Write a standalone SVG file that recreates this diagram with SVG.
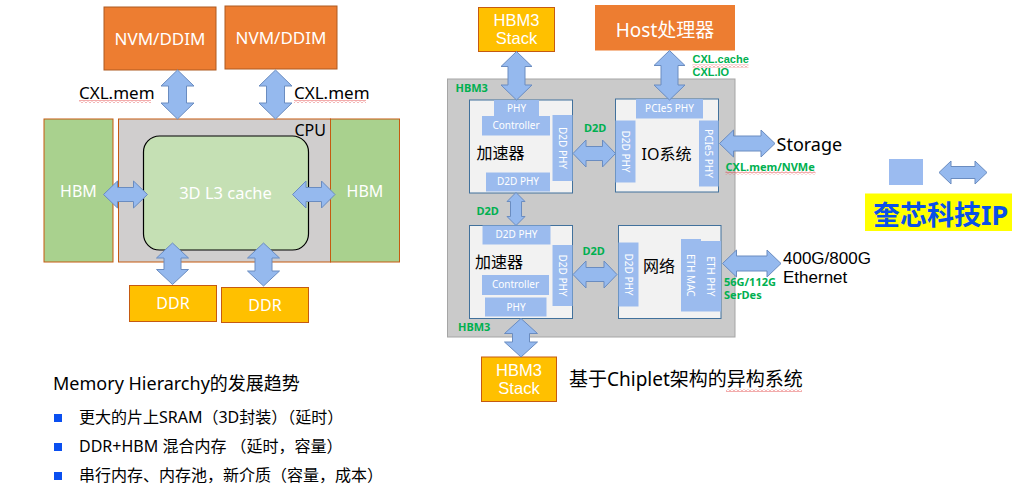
<svg xmlns="http://www.w3.org/2000/svg" width="1015" height="490" viewBox="0 0 1015 490">
<defs>
<pattern id="wavy" width="4" height="3" patternUnits="userSpaceOnUse"><path d="M0,2.5 L2,0.5 L4,2.5" stroke="#E03030" stroke-width="0.8" fill="none"/></pattern>
<style>
text{font-family:"Noto Sans","Noto Sans CJK SC",sans-serif;}
.ls{font-family:"Liberation Sans",Arial,sans-serif;}
.w{fill:#fff;}
.k{fill:#000;}
.c{text-anchor:middle;}
.g{fill:#00B050;font-weight:bold;font-size:11px;}
.arr{fill:#95B9EE;stroke:#6A8CC0;stroke-width:1;}
.nvm{fill:#ED7D31;stroke:#AE5A21;stroke-width:1;}
.ddr{fill:#FFC000;stroke:#C55A11;stroke-width:1;}
.hbm{fill:#A9D18E;stroke:#C55A11;stroke-width:1;}
.blk{fill:#F2F2F2;stroke:#41719C;stroke-width:1;}
.sub{fill:#9BBBEE;}
.st{fill:#fff;font-size:10px;}
.rt{fill:#fff;font-size:10px;text-anchor:middle;dominant-baseline:central;}
.bul{fill:#0A4FF0;}
</style>
</defs>
<rect width="1015" height="490" fill="#fff"/>

<!-- Left: memory hierarchy -->
<g id="nvm1"><rect class="nvm" x="104" y="7" width="112" height="63"/><text class="w c" x="160" y="45" font-size="17">NVM/DDIM</text></g>
<g id="nvm2"><rect class="nvm" x="225" y="6" width="112" height="63"/><text class="w c" x="281" y="44" font-size="17">NVM/DDIM</text></g>
<g id="hbm-left"><rect class="hbm" x="44" y="119" width="69" height="143"/><text class="w c" x="78.5" y="197" font-size="16">HBM</text></g>
<g id="cpu"><rect x="118.5" y="119" width="212" height="143" fill="#D0CECE" stroke="#C55A11" stroke-width="1"/><text class="k" x="326" y="136" font-size="16" text-anchor="end">CPU</text></g>
<g id="hbm-right"><rect class="hbm" x="330.5" y="119" width="69" height="143"/><text class="w c" x="365" y="197" font-size="16">HBM</text></g>
<g id="l3cache"><rect x="143.5" y="136" width="165" height="114" rx="16" fill="#C5E0B4" stroke="#000" stroke-width="1.2"/><text class="w c" x="225.5" y="199" font-size="16.5">3D L3 cache</text></g>
<g id="ddr1"><rect class="ddr" x="129.5" y="285.5" width="87" height="36"/><text class="w c" x="173" y="309" font-size="16">DDR</text></g>
<g id="ddr2"><rect class="ddr" x="221.5" y="287.5" width="87" height="35"/><text class="w c" x="265" y="311" font-size="16">DDR</text></g>

<g id="left-labels">
<text class="k" x="79" y="99" font-size="17">CXL.mem</text>
<rect x="79" y="100" width="72" height="3" fill="url(#wavy)"/>
<text class="k" x="294" y="99" font-size="17">CXL.mem</text>
<rect x="294" y="100" width="72" height="3" fill="url(#wavy)"/>
</g>

<g id="trend">
<text class="k" x="53" y="390" font-size="18">Memory Hierarchy的发展趋势</text>
<rect class="bul" x="54" y="414" width="8" height="8"/>
<text class="k" x="79" y="423" font-size="16">更大的片上SRAM（3D封装）（延时）</text>
<rect class="bul" x="54" y="443" width="8" height="8"/>
<text class="k" x="79" y="452" font-size="16">DDR+HBM 混合内存 （延时，容量）</text>
<rect class="bul" x="54" y="472" width="8" height="8"/>
<text class="k" x="79" y="481" font-size="16">串行内存、内存池，新介质（容量，成本）</text>
</g>

<!-- Right: chiplet -->
<g id="chip"><rect x="447.5" y="79" width="287.5" height="258" fill="#CACACA" stroke="#A5A5A5" stroke-width="1"/>
<text class="g" x="455.5" y="91.5">HBM3</text>
<text class="g" x="458" y="331">HBM3</text>
</g>
<g id="hbm3-top"><rect class="ddr" x="478.5" y="7.5" width="76" height="44"/><text class="w c ls" x="516.5" y="26" font-size="16.5">HBM3</text><text class="w c ls" x="516.5" y="44" font-size="16.5">Stack</text></g>
<g id="host"><rect x="595" y="5" width="140" height="45.5" fill="#ED7D31"/><text class="w c" x="665" y="37" font-size="19">Host处理器</text></g>

<g id="accel-top">
<rect class="blk" x="469.5" y="100" width="103" height="93"/>
<rect class="sub" x="494" y="100" width="45" height="16"/><text class="st c" x="516.5" y="112">PHY</text>
<rect class="sub" x="482" y="116" width="68" height="19.5"/><text class="st c" x="516" y="129">Controller</text>
<rect class="sub" x="552.5" y="115" width="20" height="66"/><text class="rt" transform="translate(562.5,148) rotate(90)">D2D PHY</text>
<text class="k" x="476.5" y="159" font-size="16">加速器</text>
<rect class="sub" x="486" y="172.5" width="64" height="19"/><text class="st c" x="518" y="185">D2D PHY</text>
</g>
<g id="io">
<rect class="blk" x="615.5" y="99" width="103" height="93"/>
<rect class="sub" x="636" y="99" width="67" height="19.5"/><text class="st c" x="669.5" y="112">PCIe5 PHY</text>
<rect class="sub" x="615.5" y="120.5" width="20" height="62"/><text class="rt" transform="translate(625.5,151.5) rotate(90)">D2D PHY</text>
<rect class="sub" x="699" y="120.5" width="19.5" height="66"/><text class="rt" transform="translate(708.8,153.5) rotate(90)">PCIe5 PHY</text>
<text class="k" x="641.5" y="160" font-size="16">IO系统</text>
</g>
<g id="accel-bottom">
<rect class="blk" x="469.5" y="225.5" width="103" height="93"/>
<rect class="sub" x="482.5" y="225.5" width="68" height="19"/><text class="st c" x="516.5" y="238">D2D PHY</text>
<rect class="sub" x="552.5" y="245" width="20" height="61"/><text class="rt" transform="translate(562.5,275.5) rotate(90)">D2D PHY</text>
<text class="k" x="475" y="268" font-size="16">加速器</text>
<rect class="sub" x="482" y="275" width="67" height="20"/><text class="st c" x="515.5" y="288">Controller</text>
<rect class="sub" x="485" y="297.5" width="61.5" height="19"/><text class="st c" x="516" y="310.5">PHY</text>
</g>
<g id="network">
<rect class="blk" x="618.5" y="225.5" width="102.5" height="93"/>
<rect class="sub" x="618.5" y="242.5" width="20" height="64"/><text class="rt" transform="translate(628.5,274.5) rotate(90)">D2D PHY</text>
<rect class="sub" x="681" y="239" width="20" height="72.5"/><text class="rt" transform="translate(691,275.3) rotate(90)">ETH MAC</text>
<rect class="sub" x="701" y="241" width="20" height="70.5"/><text class="rt" transform="translate(711,276.3) rotate(90)">ETH PHY</text>
<text class="k" x="643" y="272" font-size="16">网络</text>
</g>
<g id="hbm3-bottom"><rect class="ddr" x="481.5" y="357" width="75" height="44.5"/><text class="w c ls" x="519" y="376" font-size="16.5">HBM3</text><text class="w c ls" x="519" y="394" font-size="16.5">Stack</text></g>

<g id="right-labels">
<text class="g ls" x="692.5" y="63.3" font-size="11.5">CXL.cache</text>
<rect x="692.5" y="64.5" width="56" height="3" fill="url(#wavy)"/>
<text class="g ls" x="692.5" y="76" font-size="11.5">CXL.IO</text>
<text class="g" x="584" y="132">D2D</text>
<text class="g" x="476.5" y="215">D2D</text>
<text class="g" x="582.5" y="255">D2D</text>
<text class="k" x="776.5" y="150.5" font-size="18">Storage</text>
<text class="g" x="725.5" y="170.5">CXL.mem/NVMe</text>
<rect x="725.5" y="171.5" width="90" height="3" fill="url(#wavy)"/>
<text class="k ls" x="783" y="264" font-size="17">400G/800G</text>
<text class="k ls" x="783" y="283" font-size="17">Ethernet</text>
<text class="g" x="724" y="286">56G/112G</text>
<text class="g" x="724" y="299">SerDes</text>
<text class="k" x="569" y="386" font-size="19">基于Chiplet架构的异构系统</text>
<rect x="726" y="389" width="76" height="3" fill="url(#wavy)"/>
</g>

<g id="legend">
<rect x="889" y="159" width="34" height="26" fill="#9BBBF0"/>
<rect x="865" y="193.5" width="147" height="37.5" fill="#FFFF00"/>
<text x="873" y="225" font-size="27" font-weight="bold" fill="#0A50E8">奎芯科技IP</text>
</g>

<g id="connectors">
<path class="arr" d="M177.5,70 L194,86 L186.5,86 L186.5,103 L194,103 L177.5,119 L161,103 L168.5,103 L168.5,86 L161,86 Z"/>
<path class="arr" d="M275.5,70 L292,86 L284.5,86 L284.5,103 L292,103 L275.5,119 L259,103 L266.5,103 L266.5,86 L259,86 Z"/>
<path class="arr" d="M103.5,194.5 L117.5,181 L117.5,187.5 L133.5,187.5 L133.5,181 L147.5,194.5 L133.5,208 L133.5,201.5 L117.5,201.5 L117.5,208 Z"/>
<path class="arr" d="M292.5,194.5 L306,181 L306,187.5 L321.5,187.5 L321.5,181 L335,194.5 L321.5,208 L321.5,201.5 L306,201.5 L306,208 Z"/>
<path class="arr" d="M172.5,243 L188.5,258 L181,258 L181,269.5 L188.5,269.5 L172.5,284.5 L156.5,269.5 L164,269.5 L164,258 L156.5,258 Z"/>
<path class="arr" d="M263.5,243 L279.5,258 L272,258 L272,271 L279.5,271 L263.5,286 L247.5,271 L255,271 L255,258 L247.5,258 Z"/>
<path class="arr" d="M516.5,51.5 L532,66.5 L525,66.5 L525,85 L532,85 L516.5,100 L501,85 L508,85 L508,66.5 L501,66.5 Z"/>
<path class="arr" d="M669.5,50.5 L685,65.5 L678,65.5 L678,85 L685,85 L669.5,100 L654,85 L661,85 L661,65.5 L654,65.5 Z"/>
<path class="arr" d="M573,153.5 L586,140 L586,146.5 L602.5,146.5 L602.5,140 L615.5,153.5 L602.5,167 L602.5,160.5 L586,160.5 L586,167 Z"/>
<path class="arr" d="M516,192.5 L525,201.5 L521.5,201.5 L521.5,216.5 L525,216.5 L516,225.5 L507,216.5 L510.5,216.5 L510.5,201.5 L507,201.5 Z"/>
<path class="arr" d="M573,274.5 L586,261 L586,267.5 L604,267.5 L604,261 L617,274.5 L604,288 L604,281.5 L586,281.5 L586,288 Z"/>
<path class="arr" d="M521,318.5 L537.5,333.5 L529.5,333.5 L529.5,342 L537.5,342 L521,357 L504.5,342 L512.5,342 L512.5,333.5 L504.5,333.5 Z"/>
<path class="arr" d="M719.5,143.5 L733.5,130 L733.5,136 L761,136 L761,130 L775,143.5 L761,157 L761,151 L733.5,151 L733.5,157 Z"/>
<path class="arr" d="M722.5,263.5 L736.5,250 L736.5,256 L767,256 L767,250 L781,263.5 L767,277 L767,271 L736.5,271 L736.5,277 Z"/>
<path class="arr" d="M939,172.5 L951,161 L951,166.5 L975,166.5 L975,161 L987,172.5 L975,184 L975,178.5 L951,178.5 L951,184 Z"/>
</g>
</svg>
